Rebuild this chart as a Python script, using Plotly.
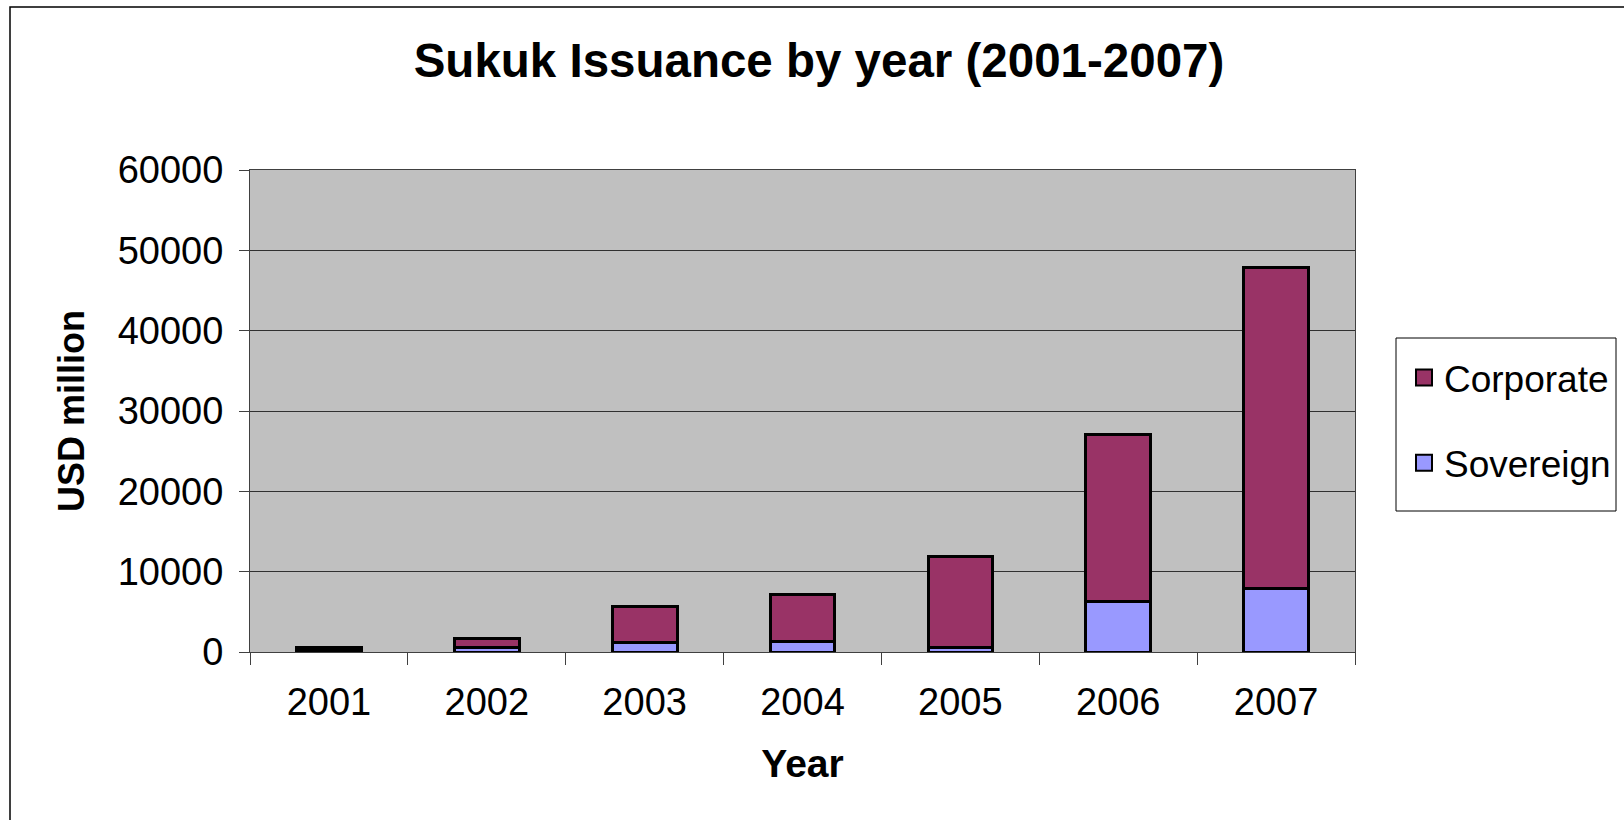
import plotly.graph_objects as go

years = ["2001", "2002", "2003", "2004", "2005", "2006", "2007"]
sovereign = [150, 550, 1200, 1250, 600, 6270, 7930]
corporate = [400, 1150, 4440, 5960, 11350, 20770, 39970]
y_ticks = [0, 10000, 20000, 30000, 40000, 50000, 60000]

FONT = "Liberation Sans, Arial, sans-serif"
COL_SOV = "#9999FF"
COL_CORP = "#993366"

fig = go.Figure()
fig.add_trace(go.Bar(x=years, y=sovereign, name="Sovereign", showlegend=False,
                     marker=dict(color=COL_SOV, line=dict(color="black", width=3)),
                     width=0.41))
fig.add_trace(go.Bar(x=years, y=corporate, name="Corporate", showlegend=False,
                     marker=dict(color=COL_CORP, line=dict(color="black", width=3)),
                     width=0.41))
# legend entries (larger square swatches)
for name, col, grp in [("Corporate", COL_CORP, "c"), ("Sovereign", COL_SOV, "s")]:
    fig.add_trace(go.Scatter(x=[None], y=[None], mode="markers", name=name, legendgroup=grp,
                             marker=dict(symbol="square", size=18, color=col,
                                         line=dict(color="black", width=2))))

fig.update_layout(
    width=1624, height=820,
    barmode="stack",
    paper_bgcolor="white",
    plot_bgcolor="#C0C0C0",
    margin=dict(l=250, r=269, t=170, b=168),
    font=dict(family=FONT, color="black", size=38),
    title=dict(text="<b>Sukuk Issuance by year (2001-2007)</b>", x=819 / 1624, xref="container",
               xanchor="center", y=1 - 60 / 820, yanchor="middle",
               font=dict(size=47.5, family=FONT)),
    legend=dict(x=1404 / 1624, xref="container", y=1 - 347 / 820, yref="container",
                xanchor="left", yanchor="top",
                borderwidth=0, bgcolor="rgba(0,0,0,0)",
                traceorder="grouped", tracegroupgap=34, itemwidth=30,
                font=dict(size=37, family=FONT)),
    showlegend=True,
)
fig.update_xaxes(
    type="category", tickson="boundaries", ticks="outside", ticklen=12,
    tickcolor="#404040", tickwidth=1,
    showline=True, linecolor="#404040", linewidth=1, mirror=True,
    title=dict(text="<b>Year</b>", font=dict(size=39, family=FONT), standoff=28),
    tickfont=dict(size=38), ticklabelstandoff=16,
)
fig.update_yaxes(
    range=[0, 60000], tickvals=y_ticks, ticktext=[str(v) for v in y_ticks],
    ticks="outside", ticklen=10, tickcolor="#404040",
    showline=True, linecolor="#404040", linewidth=1, mirror=True,
    showgrid=True, gridcolor="#303030", gridwidth=1,
    zeroline=False,
    title=dict(text="<b>USD million</b>", font=dict(size=36, family=FONT), standoff=22),
    tickfont=dict(size=38), ticklabelstandoff=8,
)

# outer chart frame
fig.add_shape(type="rect", xref="paper", yref="paper",
              x0=-240 / 1105, x1=1.5, y0=-0.5, y1=(820 - 7 - 168) / 482,
              line=dict(color="black", width=1.5), fillcolor="rgba(0,0,0,0)", layer="below")
# legend box
fig.add_shape(type="rect", xref="paper", yref="paper",
              x0=(1396 - 250) / 1105, x1=(1616 - 250) / 1105,
              y0=(652 - 511) / 482, y1=(652 - 338) / 482,
              line=dict(color="black", width=1), fillcolor="white", layer="below")

fig.write_html("out.html")
